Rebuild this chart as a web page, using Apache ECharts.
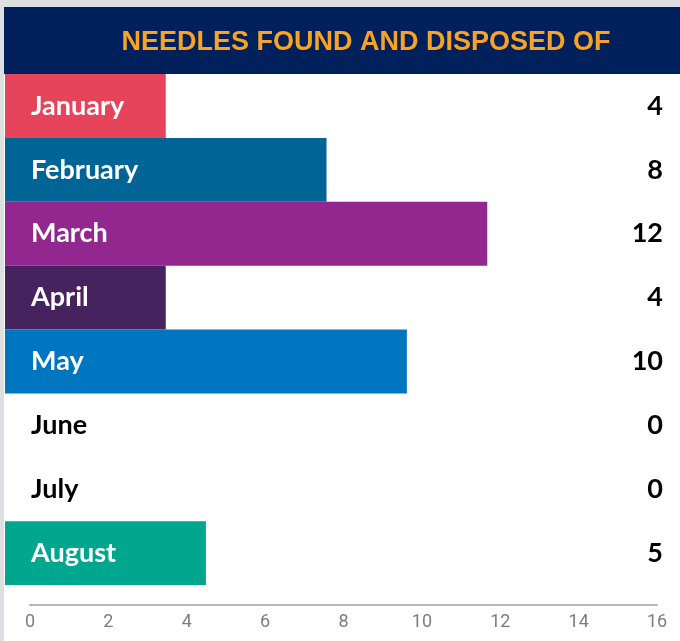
<!DOCTYPE html>
<html>
<head>
<meta charset="utf-8">
<script src="https://cdn.jsdelivr.net/npm/echarts@6/dist/echarts.min.js"></script>
<style>
  html, body { margin: 0; padding: 0; background: #dedfe0; }
  #chart { position: absolute; left: 4px; top: 7px; width: 676px; height: 634px; background: #fff; }
</style>
</head>
<body>
<div id="chart"></div>
<script>
// months and counts
var months = ["January", "February", "March", "April", "May", "June", "July", "August"];
var counts = [4, 8, 12, 4, 10, 0, 0, 5];
var barColors = ["#e5445a", "#006497", "#92278f", "#46225e", "#0076c0", "#ffffff", "#ffffff", "#00a78e"];
var labelColors = ["#fff", "#fff", "#fff", "#fff", "#fff", "#000", "#000", "#fff"];
var axisTicks = [0, 2, 4, 6, 8, 10, 12, 14, 16];

var narrow = 'Lato, "Liberation Sans Narrow", sans-serif';

var chart = echarts.init(document.getElementById("chart"));
chart.setOption({
  animation: false,
  title: {
    text: "NEEDLES FOUND AND DISPOSED OF",
    left: 357,
    top: 31,
    textAlign: "center",
    textVerticalAlign: "middle",
    textStyle: {
      color: "#f7a325",
      fontSize: 27,
      fontWeight: "bold",
      fontFamily: '"Liberation Sans", Arial, sans-serif'
    }
  },
  graphic: [
    {
      type: "rect",
      z: -1,
      shape: { x: 0, y: 0, width: 676, height: 67 },
      style: { fill: "#00205b" }
    }
  ],
  grid: [
    { left: 1, right: 32, top: 67, height: 511 },
    { left: 26, right: 23, top: 590, height: 8 }
  ],
  xAxis: [
    { gridIndex: 0, type: "value", min: 0, max: 16, show: false },
    {
      gridIndex: 1, type: "value", min: 0, max: axisTicks[axisTicks.length - 1], interval: 2,
      axisLine: { show: true, lineStyle: { color: "#b5b5b5", width: 2 } },
      axisTick: { show: false },
      splitLine: { show: false },
      axisLabel: { color: "#7d7d7d", fontSize: 18, margin: 8, fontFamily: 'Roboto, sans-serif' }
    }
  ],
  yAxis: [
    {
      gridIndex: 0, type: "category", data: months, inverse: true, z: 10,
      axisLine: { show: false }, axisTick: { show: false },
      axisLabel: {
        inside: true, margin: 26, fontSize: 27, fontWeight: "bold", fontFamily: narrow,
        color: function (val) { return labelColors[months.indexOf(val)]; }
      }
    },
    {
      gridIndex: 0, type: "category", data: counts.map(String), inverse: true, position: "right",
      axisLine: { show: false }, axisTick: { show: false },
      axisLabel: { align: "right", margin: 15, fontSize: 27, fontWeight: "bold", color: "#000", fontFamily: narrow }
    },
    { gridIndex: 1, type: "value", show: false }
  ],
  series: [
    {
      type: "bar",
      xAxisIndex: 0,
      yAxisIndex: 0,
      barCategoryGap: 0,
      data: counts.map(function (v, i) {
        return { value: v, itemStyle: { color: barColors[i] } };
      })
    }
  ]
});
</script>
</body>
</html>
